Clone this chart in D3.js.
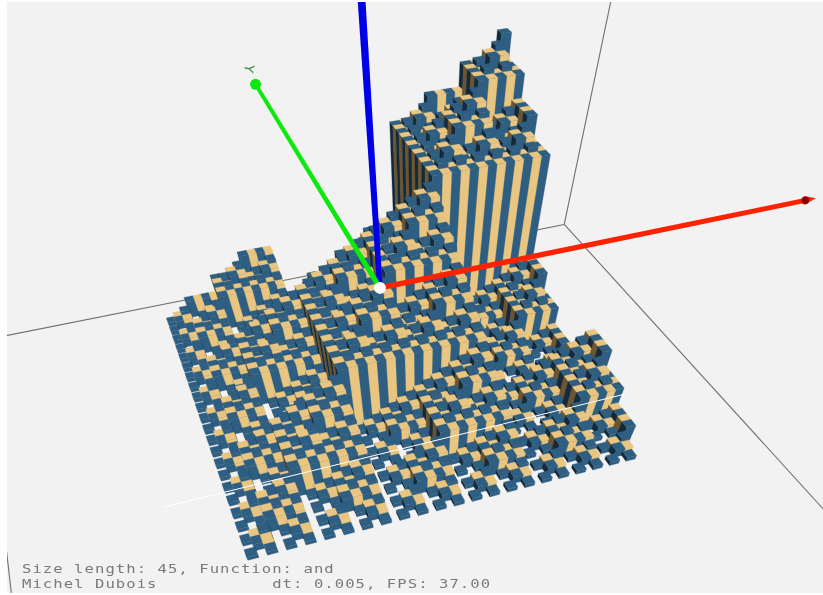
<!DOCTYPE html>
<html><head><meta charset="utf-8"><script src="https://cdn.jsdelivr.net/npm/d3@7"></script>
<style>html,body{margin:0;padding:0;background:#fff}svg{display:block}</style></head><body>
<svg id="c" width="823" height="595"></svg>
<script>
// Column heights read per grid row (row index j, column index i)
const heightRows = [
[0,0,0,0,0,0,0,0,0,0,0,0,0,0,0,0,0,0,0,0,0,0,0,0,0,0,0,0,0,0,0,0,0,0,0,0,0,0,0,0,0,0,0,0,0],
[0,1,0,1,0,1,0,1,0,1,0,1,0,1,0,1,0,1,0,1,0,1,0,1,0,1,0,1,0,1,0,1,0,1,0,1,0,1,0,1,0,1,0,1,0],
[0,0,2,2,0,0,2,2,0,0,2,2,0,0,2,2,0,0,2,2,0,0,2,2,0,0,2,2,0,0,2,2,0,0,2,2,0,0,2,2,0,0,2,2,0],
[0,1,2,3,0,1,2,3,0,1,2,3,0,1,2,3,0,1,2,3,0,1,2,3,0,1,2,3,0,1,2,3,0,1,2,3,0,1,2,3,0,1,2,3,0],
[0,0,0,0,4,4,4,4,0,0,0,0,4,4,4,4,0,0,0,0,4,4,4,4,0,0,0,0,4,4,4,4,0,0,0,0,4,4,4,4,0,0,0,0,4],
[0,1,0,1,4,5,4,5,0,1,0,1,4,5,4,5,0,1,0,1,4,5,4,5,0,1,0,1,4,5,4,5,0,1,0,1,4,5,4,5,0,1,0,1,4],
[0,0,2,2,4,4,6,6,0,0,2,2,4,4,6,6,0,0,2,2,4,4,6,6,0,0,2,2,4,4,6,6,0,0,2,2,4,4,6,6,0,0,2,2,4],
[0,1,2,3,4,5,6,7,0,1,2,3,4,5,6,7,0,1,2,3,4,5,6,7,0,1,2,3,4,5,6,7,0,1,2,3,4,5,6,7,0,1,2,3,4],
[0,0,0,0,0,0,0,0,8,8,8,8,8,8,8,8,0,0,0,0,0,0,0,0,8,8,8,8,8,8,8,8,0,0,0,0,0,0,0,0,8,8,8,8,8],
[0,1,0,1,0,1,0,1,8,9,8,9,8,9,8,9,0,1,0,1,0,1,0,1,8,9,8,9,8,9,8,9,0,1,0,1,0,1,0,1,8,9,8,9,8],
[0,0,2,2,0,0,2,2,8,8,10,10,8,8,10,10,0,0,2,2,0,0,2,2,8,8,10,10,8,8,10,10,0,0,2,2,0,0,2,2,8,8,10,10,8],
[0,1,2,3,0,1,2,3,8,9,10,11,8,9,10,11,0,1,2,3,0,1,2,3,8,9,10,11,8,9,10,11,0,1,2,3,0,1,2,3,8,9,10,11,8],
[0,0,0,0,4,4,4,4,8,8,8,8,12,12,12,12,0,0,0,0,4,4,4,4,8,8,8,8,12,12,12,12,0,0,0,0,4,4,4,4,8,8,8,8,12],
[0,1,0,1,4,5,4,5,8,9,8,9,12,13,12,13,0,1,0,1,4,5,4,5,8,9,8,9,12,13,12,13,0,1,0,1,4,5,4,5,8,9,8,9,12],
[0,0,2,2,4,4,6,6,8,8,10,10,12,12,14,14,0,0,2,2,4,4,6,6,8,8,10,10,12,12,14,14,0,0,2,2,4,4,6,6,8,8,10,10,12],
[0,1,2,3,4,5,6,7,8,9,10,11,12,13,14,15,0,1,2,3,4,5,6,7,8,9,10,11,12,13,14,15,0,1,2,3,4,5,6,7,8,9,10,11,12],
[0,0,0,0,0,0,0,0,0,0,0,0,0,0,0,0,16,16,16,16,16,16,16,16,16,16,16,16,16,16,16,16,0,0,0,0,0,0,0,0,0,0,0,0,0],
[0,1,0,1,0,1,0,1,0,1,0,1,0,1,0,1,16,17,16,17,16,17,16,17,16,17,16,17,16,17,16,17,0,1,0,1,0,1,0,1,0,1,0,1,0],
[0,0,2,2,0,0,2,2,0,0,2,2,0,0,2,2,16,16,18,18,16,16,18,18,16,16,18,18,16,16,18,18,0,0,2,2,0,0,2,2,0,0,2,2,0],
[0,1,2,3,0,1,2,3,0,1,2,3,0,1,2,3,16,17,18,19,16,17,18,19,16,17,18,19,16,17,18,19,0,1,2,3,0,1,2,3,0,1,2,3,0],
[0,0,0,0,4,4,4,4,0,0,0,0,4,4,4,4,16,16,16,16,20,20,20,20,16,16,16,16,20,20,20,20,0,0,0,0,4,4,4,4,0,0,0,0,4],
[0,1,0,1,4,5,4,5,0,1,0,1,4,5,4,5,16,17,16,17,20,21,20,21,16,17,16,17,20,21,20,21,0,1,0,1,4,5,4,5,0,1,0,1,4],
[0,0,2,2,4,4,6,6,0,0,2,2,4,4,6,6,16,16,18,18,20,20,22,22,16,16,18,18,20,20,22,22,0,0,2,2,4,4,6,6,0,0,2,2,4],
[0,1,2,3,4,5,6,7,0,1,2,3,4,5,6,7,16,17,18,19,20,21,22,23,16,17,18,19,20,21,22,23,0,1,2,3,4,5,6,7,0,1,2,3,4],
[0,0,0,0,0,0,0,0,8,8,8,8,8,8,8,8,16,16,16,16,16,16,16,16,24,24,24,24,24,24,24,24,0,0,0,0,0,0,0,0,8,8,8,8,8],
[0,1,0,1,0,1,0,1,8,9,8,9,8,9,8,9,16,17,16,17,16,17,16,17,24,25,24,25,24,25,24,25,0,1,0,1,0,1,0,1,8,9,8,9,8],
[0,0,2,2,0,0,2,2,8,8,10,10,8,8,10,10,16,16,18,18,16,16,18,18,24,24,26,26,24,24,26,26,0,0,2,2,0,0,2,2,8,8,10,10,8],
[0,1,2,3,0,1,2,3,8,9,10,11,8,9,10,11,16,17,18,19,16,17,18,19,24,25,26,27,24,25,26,27,0,1,2,3,0,1,2,3,8,9,10,11,8],
[0,0,0,0,4,4,4,4,8,8,8,8,12,12,12,12,16,16,16,16,20,20,20,20,24,24,24,24,28,28,28,28,0,0,0,0,4,4,4,4,8,8,8,8,12],
[0,1,0,1,4,5,4,5,8,9,8,9,12,13,12,13,16,17,16,17,20,21,20,21,24,25,24,25,28,29,28,29,0,1,0,1,4,5,4,5,8,9,8,9,12],
[0,0,2,2,4,4,6,6,8,8,10,10,12,12,14,14,16,16,18,18,20,20,22,22,24,24,26,26,28,28,30,30,0,0,2,2,4,4,6,6,8,8,10,10,12],
[0,1,2,3,4,5,6,7,8,9,10,11,12,13,14,15,16,17,18,19,20,21,22,23,24,25,26,27,28,29,30,31,0,1,2,3,4,5,6,7,8,9,10,11,12],
[0,0,0,0,0,0,0,0,0,0,0,0,0,0,0,0,0,0,0,0,0,0,0,0,0,0,0,0,0,0,0,0,32,32,32,32,32,32,32,32,32,32,32,32,32],
[0,1,0,1,0,1,0,1,0,1,0,1,0,1,0,1,0,1,0,1,0,1,0,1,0,1,0,1,0,1,0,1,32,33,32,33,32,33,32,33,32,33,32,33,32],
[0,0,2,2,0,0,2,2,0,0,2,2,0,0,2,2,0,0,2,2,0,0,2,2,0,0,2,2,0,0,2,2,32,32,34,34,32,32,34,34,32,32,34,34,32],
[0,1,2,3,0,1,2,3,0,1,2,3,0,1,2,3,0,1,2,3,0,1,2,3,0,1,2,3,0,1,2,3,32,33,34,35,32,33,34,35,32,33,34,35,32],
[0,0,0,0,4,4,4,4,0,0,0,0,4,4,4,4,0,0,0,0,4,4,4,4,0,0,0,0,4,4,4,4,32,32,32,32,36,36,36,36,32,32,32,32,36],
[0,1,0,1,4,5,4,5,0,1,0,1,4,5,4,5,0,1,0,1,4,5,4,5,0,1,0,1,4,5,4,5,32,33,32,33,36,37,36,37,32,33,32,33,36],
[0,0,2,2,4,4,6,6,0,0,2,2,4,4,6,6,0,0,2,2,4,4,6,6,0,0,2,2,4,4,6,6,32,32,34,34,36,36,38,38,32,32,34,34,36],
[0,1,2,3,4,5,6,7,0,1,2,3,4,5,6,7,0,1,2,3,4,5,6,7,0,1,2,3,4,5,6,7,32,33,34,35,36,37,38,39,32,33,34,35,36],
[0,0,0,0,0,0,0,0,8,8,8,8,8,8,8,8,0,0,0,0,0,0,0,0,8,8,8,8,8,8,8,8,32,32,32,32,32,32,32,32,40,40,40,40,40],
[0,1,0,1,0,1,0,1,8,9,8,9,8,9,8,9,0,1,0,1,0,1,0,1,8,9,8,9,8,9,8,9,32,33,32,33,32,33,32,33,40,41,40,41,40],
[0,0,2,2,0,0,2,2,8,8,10,10,8,8,10,10,0,0,2,2,0,0,2,2,8,8,10,10,8,8,10,10,32,32,34,34,32,32,34,34,40,40,42,42,40],
[0,1,2,3,0,1,2,3,8,9,10,11,8,9,10,11,0,1,2,3,0,1,2,3,8,9,10,11,8,9,10,11,32,33,34,35,32,33,34,35,40,41,42,43,40],
[0,0,0,0,4,4,4,4,8,8,8,8,12,12,12,12,0,0,0,0,4,4,4,4,8,8,8,8,12,12,12,12,32,32,32,32,36,36,36,36,40,40,40,40,44]
];
const captionLines = ["Size length: 45, Function: and", "Michel Dubois           dt: 0.005, FPS: 37.00"];
const axisLabel = "Y";

const W = 823, H = 595;
const vX=[4600,-580], vY=[-115,-522], vZ=[420,916], O=[252,555];
const lX=0.002254, lY=0.00653, lZ=-0.00795;
const worldX = d3.scaleLinear().domain([1,43]).range([0,42]);
const worldY = d3.scaleLinear().domain([1,43]).range([0,42]);
const worldZ = d3.scaleLinear().domain([0,44]).range([0,44]);
function den(i,j,k){return lX*worldX(i)+lY*worldY(j)+lZ*worldZ(k)+1;}
function proj(i,j,k){
  const a=lX*worldX(i), b=lY*worldY(j), c=lZ*worldZ(k), w=a+b+c+1;
  return [(a*vX[0]+b*vY[0]+c*vZ[0]+O[0])/w,(a*vX[1]+b*vY[1]+c*vZ[1]+O[1])/w];
}
const camI=4.4;

const svg=d3.select("#c");
svg.append("rect").attr("width",W).attr("height",H).attr("fill","#fff");
const defs=svg.append("defs");
defs.append("clipPath").attr("id","vp").append("rect").attr("x",7).attr("y",2).attr("width",816).attr("height",591);
defs.append("filter").attr("id","soft").attr("x",0).attr("y",0).attr("width",1).attr("height",1).append("feGaussianBlur").attr("stdDeviation",0.6);
const outer=svg.append("g").attr("clip-path","url(#vp)");
outer.append("rect").attr("x",7).attr("y",2).attr("width",816).attr("height",591).attr("fill","#f2f2f2");
const g=outer.append("g").attr("filter","url(#soft)");

const line=d3.line();
const c0=22.5, B=53;
const boxEdges=[
 [[c0-B,c0+B,c0-B],[c0+B,c0+B,c0-B]],
 [[c0+B,c0+B,c0-B],[c0+B,c0-B,c0-B]],
 [[c0-B,c0+B,c0-B],[c0-B,c0-B,c0-B]],
 [[c0+B,c0+B,c0-B],[c0+B,c0+B,c0+B]]
];
g.selectAll("path.box").data(boxEdges).join("path").attr("class","box")
 .attr("d",e=>line(e.map(p=>proj(...p)))).attr("fill","none").attr("stroke","#707070").attr("stroke-width",1.1);

const palette={blue:{lit:"#2f5e82",dark:"#12293c"},tan:{lit:"#e8c581",dark:"#6c5631"}};
const faces=[];
const hw=0.55;
const jOrder=d3.range(44,-1,-1);
const iOrder=d3.range(45).sort((a,b)=>Math.abs(b-camI)-Math.abs(a-camI));
for(const j of jOrder) for(const i of iOrder){
  const h=heightRows[j][i]; if(!h) continue;
  const col=(i+j)%2?palette.tan:palette.blue;
  const a=i-hw,b=i+hw,f=j-hw,r=j+hw;
  if(a>camI) faces.push({p:[[a,f,0],[a,r,0],[a,r,h],[a,f,h]],c:col.dark});
  if(b<camI) faces.push({p:[[b,f,0],[b,r,0],[b,r,h],[b,f,h]],c:col.dark});
  faces.push({p:[[a,f,0],[b,f,0],[b,f,h],[a,f,h]],c:col.lit});
  faces.push({p:[[a,f,h],[b,f,h],[b,r,h],[a,r,h]],c:col.lit});
}
g.selectAll("polygon.face").data(faces).join("polygon").attr("class","face")
 .attr("points",d=>d.p.map(q=>proj(...q).join(",")).join(" "))
 .attr("fill",d=>d.c).attr("stroke",d=>d.c).attr("stroke-width",0.3);

g.append("path").attr("d",line([proj(-6,10.7,0),proj(48,10.7,0)])).attr("stroke","#fff").attr("stroke-width",1).attr("fill","none");

const ctr=[22.5,22.5,22.3];
function axisPoly(dir,len,k){
  const a=ctr, b=[a[0]+dir[0]*len,a[1]+dir[1]*len,a[2]+dir[2]*len];
  const pa=proj(...a),pb=proj(...b),w0=k/den(...a),w1=k/den(...b);
  const dx=pb[0]-pa[0],dy=pb[1]-pa[1],n=Math.hypot(dx,dy),nx=-dy/n,ny=dx/n;
  return [[pa[0]+nx*w0,pa[1]+ny*w0],[pb[0]+nx*w1,pb[1]+ny*w1],[pb[0]-nx*w1,pb[1]-ny*w1],[pa[0]-nx*w0,pa[1]-ny*w0]];
}
const redLen=50.3, greenLen=52;
const axes=[
 {dir:[0,0,1],len:60,col:"#0000e8",k:2.7},
 {dir:[0,1,0],len:greenLen,col:"#10e810",k:2.6},
 {dir:[1,0,0],len:redLen,col:"#ff2200",k:2.8}
];
g.selectAll("polygon.axis").data(axes).join("polygon").attr("class","axis")
 .attr("points",d=>axisPoly(d.dir,d.len,d.k).map(p=>p.join(",")).join(" ")).attr("fill",d=>d.col);
const pt=(d,l)=>proj(ctr[0]+d[0]*l,ctr[1]+d[1]*l,ctr[2]+d[2]*l);
const rEnd=pt([1,0,0],redLen), rTip=pt([1,0,0],redLen+1.4);
g.append("polygon").attr("points",[[rTip[0],rTip[1]],[rEnd[0]-1,rEnd[1]-4.5],[rEnd[0]-1,rEnd[1]+4.5]].map(p=>p.join(",")).join(" ")).attr("fill","#ff2200");
g.append("circle").attr("cx",rEnd[0]).attr("cy",rEnd[1]).attr("r",3.8).attr("fill","#8c0000");
const gEnd=pt([0,1,0],greenLen);
g.append("circle").attr("cx",gEnd[0]).attr("cy",gEnd[1]).attr("r",5.5).attr("fill","#10e810");
const oP=proj(...ctr);
g.append("circle").attr("cx",oP[0]).attr("cy",oP[1]).attr("r",6).attr("fill","#fff");
const lab=pt([0,1,0],greenLen+5.5);
g.append("text").attr("transform",`translate(${lab[0]+3},${lab[1]}) rotate(100)`).attr("text-anchor","middle").attr("dy","0.35em")
 .attr("font-family","DejaVu Sans").attr("font-size",13).attr("fill","#2e8b45").text(axisLabel);

g.selectAll("text.cap").data(captionLines).join("text").attr("class","cap")
 .attr("transform",(d,i)=>`translate(22,${573+i*15}) scale(1.3,1)`)
 .attr("font-family","DejaVu Sans Mono").attr("font-size",12).attr("letter-spacing",0.8)
 .attr("fill","#7a7a7a").attr("xml:space","preserve").style("white-space","pre").text(d=>d);
</script></body></html>
